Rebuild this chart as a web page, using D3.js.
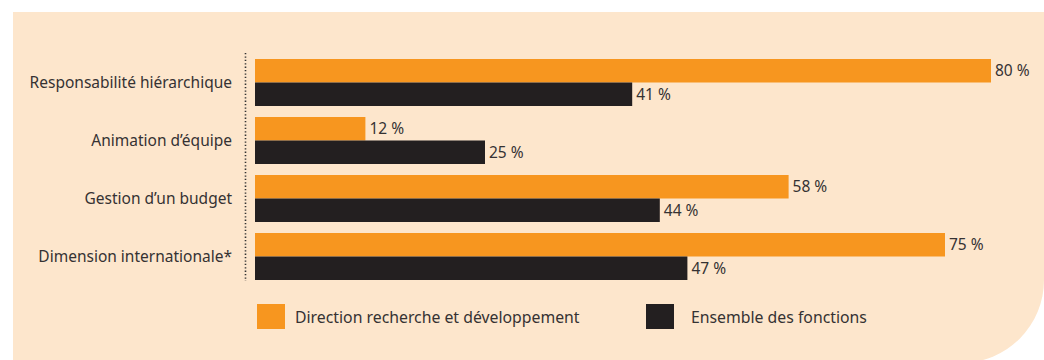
<!DOCTYPE html>
<html>
<head>
<meta charset="utf-8">
<script src="https://cdn.jsdelivr.net/npm/d3@7"></script>
<style>
  html, body { margin: 0; padding: 0; background: #ffffff; }
  svg { display: block; }
  text { font-family: "Noto Sans", "Liberation Sans", sans-serif; fill: #353233; }
</style>
</head>
<body>
<svg id="chart" width="1044" height="360"></svg>
<script>
// Share of managers (%) per responsibility
const categories = [
  "Responsabilité hiérarchique",
  "Animation d’équipe",
  "Gestion d’un budget",
  "Dimension internationale*"
];
const seriesNames = ["Direction recherche et développement", "Ensemble des fonctions"];
const rdValues = [80, 12, 58, 75];
const allValues = [41, 25, 44, 47];
const colors = ["#f7961f", "#231f20"];

const svg = d3.select("#chart");

// Background panel with rounded bottom-right corner
const px0 = 13, py0 = 12, px1 = 1044, py1 = 363, r = 83;
svg.append("path")
  .attr("d", `M${px0},${py0} H${px1} V${py1 - r} A${r},${r} 0 0 1 ${px1 - r},${py1} H${px0} Z`)
  .attr("fill", "#fde6cc");

const x = d3.scaleLinear().domain([0, 100]).range([255, 255 + 920]);

// Each group holds two stacked bars; groups repeat every 58px
const step = 58, bandH = 47;
const yB = d3.scaleBand()
  .domain(categories)
  .range([59, 59 + step * (categories.length - 1) + bandH])
  .paddingInner((step - bandH) / step)
  .paddingOuter(0);
const sub = d3.scaleBand().domain([0, 1]).range([0, yB.bandwidth()]);

// Dotted vertical axis
svg.append("line")
  .attr("x1", 245.5).attr("x2", 245.5)
  .attr("y1", 53).attr("y2", 281)
  .attr("stroke", "#333")
  .attr("stroke-width", 1.6)
  .attr("stroke-dasharray", "1.3,2.1");

const rows = categories.map((c, i) => ({ c, vals: [rdValues[i], allValues[i]] }));

const g = svg.append("g");
rows.forEach(row => {
  row.vals.forEach((v, j) => {
    const y0 = yB(row.c) + sub(j);
    g.append("rect")
      .attr("x", x(0))
      .attr("y", y0)
      .attr("width", x(v) - x(0))
      .attr("height", sub.bandwidth())
      .attr("fill", colors[j]);
    g.append("text")
      .attr("x", x(v) + 4)
      .attr("y", y0 + sub.bandwidth() / 2)
      .attr("dy", "0.35em")
      .attr("font-size", 15.5)
      .text(v + " %");
  });
  g.append("text")
    .attr("x", 232)
    .attr("y", yB(row.c) + yB.bandwidth() / 2)
    .attr("dy", "0.35em")
    .attr("text-anchor", "end")
    .attr("font-size", 15.5)
    .text(row.c);
});

// Legend
const legendX = [257, 646];
seriesNames.forEach((name, i) => {
  svg.append("rect")
    .attr("x", legendX[i]).attr("y", 304)
    .attr("width", 28).attr("height", 25)
    .attr("fill", colors[i]);
  svg.append("text")
    .attr("x", legendX[i] + (i === 0 ? 38 : 45)).attr("y", 317)
    .attr("dy", "0.35em")
    .attr("font-size", 15.8)
    .text(name);
});
</script>
</body>
</html>
